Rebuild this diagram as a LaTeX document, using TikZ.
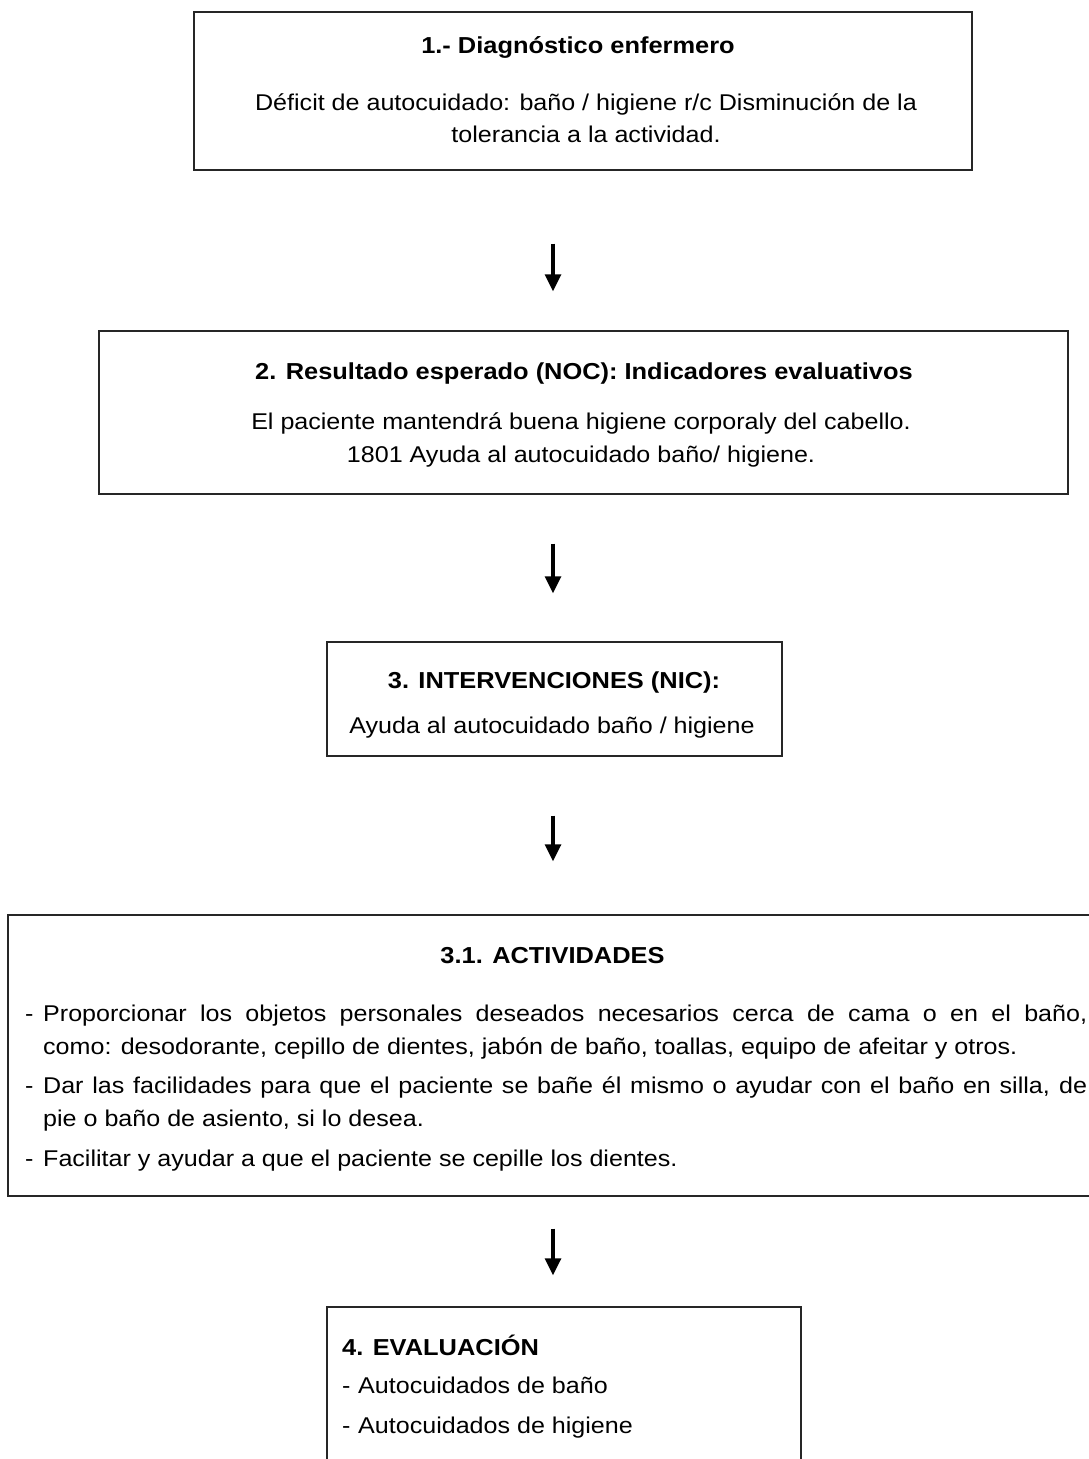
\documentclass[tikz,border=0pt]{standalone}
\usepackage{fontspec}
\setmainfont{Liberation Sans}[FakeStretch=1.1]
\usetikzlibrary{arrows.meta}
\tikzset{
  box/.style={draw=black!85, line width=1.4pt, rectangle, inner sep=0pt},
  txt/.style={inner sep=0pt, anchor=base, font=\fontsize{22.8}{33}\selectfont},
  hd/.style={txt, font=\fontsize{23.1}{33}\selectfont\bfseries},
  ltxt/.style={txt, anchor=base west},
  flow/.style={line width=3.2pt, -{Triangle[width=16pt,length=17pt]}},
}
\begin{document}
\begin{tikzpicture}[x=1pt,y=-1pt]
\useasboundingbox (0,0) rectangle (1089,1459);
\clip (0,0) rectangle (1089,1459);
\fill[white] (0,0) rectangle (1089,1459);
\coordinate (axis) at (553,0);

% boxes
\node[box, minimum width=778pt, minimum height=158pt] (b1) at (583,91) {};
\node[box, minimum width=969pt, minimum height=163pt] (b2) at (583.5,412.5) {};
\node[box, minimum width=455pt, minimum height=114pt] (b3) at (554.5,699) {};
\node[box, minimum width=1092pt, minimum height=281pt] (b4) at (554,1055.5) {};
\node[box, minimum width=474pt, minimum height=170pt] (b5) at (564,1392) {};

% box 1
\node[hd] (t1h) at (578,53) {1.- Diagnóstico enfermero};
\node[txt] (t1a) at (586,110) {Déficit de autocuidado: baño / higiene r/c Disminución de la};
\node[txt] (t1b) at (586,142) {tolerancia a la actividad.};

% box 2
\node[hd] (t2h) at (584,379) {2. Resultado esperado (NOC): Indicadores evaluativos};
\node[txt] (t2a) at (581,429) {El paciente mantendrá buena higiene corporaly del cabello.};
\node[txt] (t2b) at (581,462) {1801 Ayuda al autocuidado baño/ higiene.};

% box 3
\node[hd] (t3h) at (554,688) {3. INTERVENCIONES (NIC):};
\node[txt] (t3a) at (552,733) {Ayuda al autocuidado baño / higiene};

% box 4
\node[hd] (t4h) at (552.5,963) {3.1. ACTIVIDADES};
\node[ltxt] (a1) at (25,1021) {\makebox[18pt][l]{-}\hbox to 1044pt{Proporcionar los objetos personales deseados necesarios cerca de cama o en el baño,}};
\node[ltxt] (a2) at (43,1054) {como: desodorante, cepillo de dientes, jabón de baño, toallas, equipo de afeitar y otros.};
\node[ltxt] (a3) at (25,1093) {\makebox[18pt][l]{-}\hbox to 1044pt{Dar las facilidades para que el paciente se bañe él mismo o ayudar con el baño en silla, de}};
\node[ltxt] (a4) at (43,1126) {pie o baño de asiento, si lo desea.};
\node[ltxt] (a5) at (25,1166) {\makebox[18pt][l]{-}Facilitar y ayudar a que el paciente se cepille los dientes.};

% box 5
\node[hd, anchor=base west] (t5h) at (342,1355) {4. EVALUACIÓN};
\node[ltxt] (e1) at (342,1393) {\makebox[16pt][l]{-}Autocuidados de baño};
\node[ltxt] (e2) at (342,1433) {\makebox[16pt][l]{-}Autocuidados de higiene};

% arrows
\draw[flow, shorten <=73pt, shorten >=39pt] (b1.south -| axis) -- (b2.north -| axis);
\draw[flow, shorten <=49pt, shorten >=48pt] (b2.south -| axis) -- (b3.north -| axis);
\draw[flow, shorten <=59pt, shorten >=53pt] (b3.south -| axis) -- (b4.north -| axis);
\draw[flow, shorten <=32pt, shorten >=31pt] (b4.south -| axis) -- (b5.north -| axis);
\end{tikzpicture}
\end{document}
